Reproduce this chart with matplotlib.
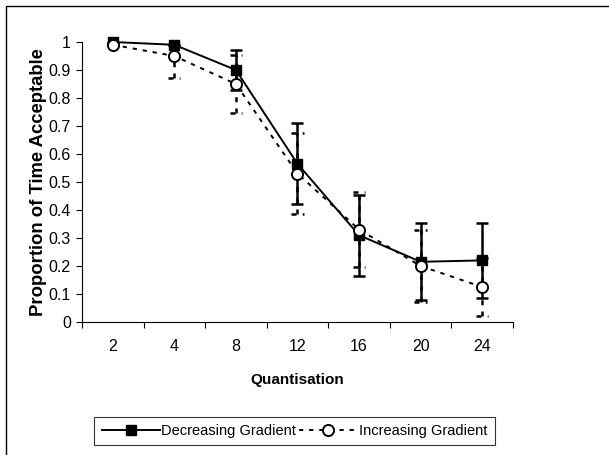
import matplotlib.pyplot as plt
from matplotlib.patches import Rectangle

plt.rcParams['font.family'] = ['Liberation Sans', 'DejaVu Sans']

categories = ['2', '4', '8', '12', '16', '20', '24']
decreasing = [1.0, 0.99, 0.90, 0.565, 0.31, 0.215, 0.22]
decreasing_err = [0.0, 0.0, 0.07, 0.145, 0.145, 0.137, 0.135]
increasing = [0.99, 0.95, 0.85, 0.53, 0.33, 0.20, 0.125]
increasing_err = [0.0, 0.08, 0.105, 0.145, 0.135, 0.13, 0.105]


def main():
    fig = plt.figure(figsize=(6.09, 4.55), dpi=100)
    ax = fig.add_axes([0.1346, 0.2923, 0.7078, 0.6154])
    x = list(range(len(categories)))

    # outer chart frame (only left/top visible in the original)
    fig.patches.append(Rectangle((6 / 609, -0.1), 1.2, 1.1 - 6 / 455,
                                 transform=fig.transFigure, fill=False,
                                 edgecolor='black', linewidth=1.0))

    # decreasing gradient: solid line, black squares, solid error bars
    ax.errorbar(x, decreasing, yerr=decreasing_err, fmt='none', ecolor='black',
                elinewidth=1.8, capsize=4.5, capthick=1.8, zorder=2)
    ax.plot(x, decreasing, color='black', linewidth=1.4, marker='s',
            markersize=7.5, markerfacecolor='black', markeredgecolor='black',
            label='Decreasing Gradient', zorder=3, clip_on=False)

    # increasing gradient: dashed line, white circles, dashed error bars
    eb = ax.errorbar(x, increasing, yerr=increasing_err, fmt='none', ecolor='black',
                     elinewidth=1.8, capsize=0, zorder=2)
    eb[2][0].set_linestyle((0, (2, 2.5)))
    cap_w = 0.1
    lows = [v - e for v, e in zip(increasing, increasing_err)]
    highs = [v + e for v, e in zip(increasing, increasing_err)]
    for xi, lo, hi, e in zip(x, lows, highs, increasing_err):
        if e > 0:
            ax.hlines([lo, hi], xi - cap_w, xi + cap_w, colors='black',
                      linewidth=1.8, linestyles=(0, (2, 2.5)), zorder=2)
    ax.plot(x, increasing, color='black', linewidth=1.4, linestyle=(0, (2.2, 3)),
            marker='o', markersize=8, markerfacecolor='white',
            markeredgecolor='black', markeredgewidth=1.4,
            label='Increasing Gradient', zorder=4, clip_on=False)

    ax.set_xlim(-0.5, len(categories) - 0.5)
    ax.set_ylim(0, 1)
    ax.set_yticks([i / 10 for i in range(11)])
    ax.set_yticklabels(['0'] + [f'{i / 10:g}' for i in range(1, 10)] + ['1'])
    ax.set_xticks(x)
    ax.set_xticklabels(categories)
    ax.set_xticks([i - 0.5 for i in range(len(categories) + 1)], minor=True)
    ax.tick_params(axis='x', which='major', length=0, pad=12, labelsize=11.5)
    ax.tick_params(axis='x', which='minor', length=4, width=0.8, direction='out')
    ax.tick_params(axis='y', length=4, width=0.8, direction='out', labelsize=11.5, pad=4)

    ax.spines['top'].set_visible(False)
    ax.spines['right'].set_visible(False)
    ax.spines['left'].set_linewidth(0.8)
    ax.spines['bottom'].set_linewidth(0.8)

    ax.set_xlabel('Quantisation', fontsize=11, fontweight='bold', labelpad=14)
    ax.set_ylabel('Proportion of Time Acceptable', fontsize=13.3, fontweight='bold',
                  labelpad=1)

    leg = fig.legend(loc='center', bbox_to_anchor=(294.5 / 609, 1 - 431 / 455),
                     ncol=2, frameon=True, fancybox=False, fontsize=10.5,
                     handlelength=4.0, handletextpad=0.1, columnspacing=0.2,
                     borderpad=0.5, borderaxespad=0)
    leg.get_frame().set_edgecolor('black')
    leg.get_frame().set_linewidth(0.8)

    fig.savefig('out.png', dpi=100)


if __name__ == '__main__':
    main()
